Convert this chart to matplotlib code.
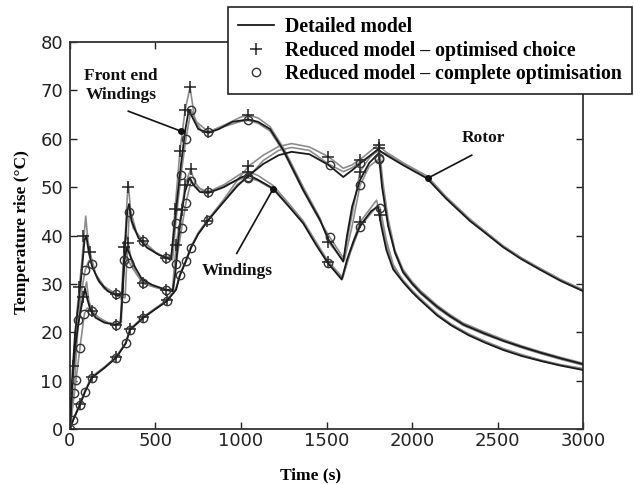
import matplotlib
matplotlib.use("Agg")
import matplotlib.pyplot as plt
from matplotlib.lines import Line2D

# ---- data (time in s, temperature rise in degC) ----

# front end windings
fewTime = [0, 15, 30, 50, 70, 85, 95, 110, 130, 170, 220, 280, 305, 320, 335, 345, 360, 400,
           450, 520, 590, 605, 625, 650, 675, 695, 715, 750, 809, 870, 950, 1043, 1100, 1170,
           1250, 1364, 1462, 1511, 1598, 1620, 1650, 1696, 1750, 1805, 1825, 1860, 1900, 1947,
           2000, 2050, 2146, 2220, 2300, 2420, 2536, 2640, 2750, 2870, 3000]
fewDetailed = [0, 12, 20, 26, 33, 39, 40, 36.5, 33.5, 30.5, 28.5, 27.5, 28, 37, 45, 46.5, 43, 39.5,
               37.5, 36, 35, 40, 47, 55, 62, 66, 64.5, 62, 61.2, 62, 63.5, 64, 63.5, 62,
               57.5, 49.4, 43.2, 39.2, 34.6, 40, 46, 51.5, 55, 57, 50, 42, 36.5, 32.5,
               30.1, 28.2, 25.3, 23.4, 21.6, 19.8, 18.2, 17, 15.8, 14.6, 13.4]
fewOptTime = [0, 20, 40, 55, 70, 92, 105, 117, 150, 200, 269, 305, 318, 330, 340, 355, 390, 429,
              500, 561, 595, 614, 643, 673, 702, 730, 770, 809, 900, 1000, 1043, 1100, 1170, 1250,
              1364, 1462, 1511, 1598, 1650, 1696, 1750, 1809, 1830, 1860, 1900, 1947, 2000, 2050,
              2146, 2220, 2300, 2420, 2536, 2640, 2750, 2870, 3000]
fewOpt = [0, 13, 24, 29.4, 35, 44, 39, 36.6, 32, 29.5, 27.9, 28, 36, 45, 51, 45, 40.5, 38.8,
          36.5, 35.4, 36, 45.4, 57.5, 65.9, 70.6, 64, 61.5, 61.4, 62.8, 64.5, 64.9, 64.3, 62.5, 58,
          50, 43.6, 38.7, 34.8, 44.5, 53.2, 56, 58, 51, 43.5, 37, 33, 30.5, 28.6,
          25.6, 23.7, 21.9, 20.1, 18.5, 17.2, 16, 14.8, 13.6]
fewFullTime = [0, 23, 49, 70, 88, 110, 127, 160, 200, 269, 322, 330, 347, 370, 429, 500, 561, 600,
               618, 649, 678, 708, 740, 809, 900, 1000, 1043, 1100, 1170, 1250, 1364, 1462, 1520,
               1605, 1650, 1696, 1750, 1809, 1830, 1860, 1900, 1947, 2000, 2050, 2146, 2220, 2300,
               2420, 2536, 2640, 2750, 2870, 3000]
fewFull = [0, 7.4, 22.5, 29, 32.8, 34.8, 34.2, 31, 29, 27.9, 27.1, 33, 44.9, 41.5, 38.8, 36.5, 35.4, 35,
           42.5, 52.5, 60, 66, 63.5, 61.4, 62.5, 63.6, 63.8, 63.2, 61.6, 57.2, 49.2, 43, 39.6,
           35, 42, 50.4, 54.3, 55.9, 49.5, 42.5, 36.5, 32.3, 29.9, 28, 25, 23.2, 21.4,
           19.6, 18.1, 16.8, 15.6, 14.4, 13.2]
fewPlusTime = [55, 78, 117, 269, 340, 429, 561, 614, 643, 673, 702, 809, 1043, 1511, 1696, 1809]
fewPlus = [29.4, 40, 36.6, 27.9, 50, 38.8, 35.4, 45.4, 57.5, 65.9, 70.6, 61.4, 64.9, 38.7, 53.2, 58]
fewCircTime = [23, 49, 88, 127, 269, 322, 347, 429, 561, 618, 649, 678, 708, 809, 1043, 1520, 1696, 1809]
fewCirc = [7.4, 22.5, 32.8, 34.2, 27.9, 27.1, 44.9, 38.8, 35.4, 42.5, 52.5, 60, 66, 61.4, 63.8, 39.6, 50.4, 55.9]

# windings
wndTime = [0, 15, 30, 50, 70, 88, 100, 120, 150, 200, 270, 295, 308, 318, 333, 350, 380, 420,
           480, 560, 600, 615, 630, 650, 672, 700, 720, 760, 809, 900, 1000, 1043, 1100, 1189,
           1280, 1364, 1440, 1508, 1589, 1620, 1660, 1696, 1760, 1800, 1820, 1850, 1890, 1947,
           2000, 2040, 2146, 2230, 2330, 2430, 2536, 2640, 2760, 2870, 3000]
wndDetailed = [0, 10, 17, 22, 26, 29, 27, 24.5, 23, 22, 21.5, 22, 28, 35, 37.5, 36, 33.5, 31,
               29.8, 28.8, 28.5, 32, 38, 44, 49, 52, 50.5, 49, 48.8, 50, 52, 52.5, 51.5, 49.7,
               46, 42.5, 38, 34.3, 30.9, 35, 39, 42, 45, 46, 42, 37, 33, 30.4,
               28.3, 26.9, 23.5, 21.4, 19.4, 17.8, 16.3, 15.1, 14, 13.1, 12.2]
wndOptTime = [0, 20, 45, 65, 78, 97, 110, 130, 170, 220, 269, 295, 305, 316, 330, 341, 360, 390,
              429, 500, 561, 600, 620, 653, 672, 706, 730, 770, 809, 900, 1000, 1043, 1100, 1189,
              1280, 1364, 1440, 1511, 1595, 1640, 1696, 1793, 1813, 1850, 1890, 1947, 2000, 2040,
              2146, 2230, 2330, 2430, 2536, 2640, 2760, 2870, 3000]
wndOpt = [0, 13, 21, 25, 27.3, 30.4, 26.5, 24.4, 23, 22, 21.6, 22, 30, 37.7, 40, 38.4, 34.5, 32,
          30.1, 29.3, 28.7, 29, 38, 45.2, 50.4, 53.7, 51, 49.3, 49, 50.5, 52.8, 53.2, 52.4, 50.3,
          46.6, 43, 38.6, 34.6, 31.3, 37, 42.8, 47.3, 44.2, 38, 33.5, 30.8, 28.7, 27.3,
          23.8, 21.7, 19.7, 18.1, 16.6, 15.4, 14.2, 13.3, 12.5]
wndFullTime = [0, 35, 58, 84, 100, 130, 170, 220, 269, 300, 316, 330, 347, 380, 429, 500, 561, 605,
               620, 653, 678, 708, 740, 809, 900, 1000, 1043, 1100, 1189, 1280, 1364, 1440, 1511,
               1592, 1640, 1696, 1800, 1813, 1850, 1890, 1947, 2000, 2040, 2146, 2230, 2330, 2430,
               2536, 2640, 2760, 2870, 3000]
wndFull = [0, 10.1, 16.7, 23.8, 25, 24.4, 22.8, 22, 21.6, 22, 34.9, 35.5, 34.4, 32.5, 30.1, 29.3, 28.7, 28.5,
           34.2, 41.5, 46.8, 51.2, 50, 49, 50.3, 51.7, 51.9, 51.3, 49.5, 46, 42.7, 38.3, 34.3,
           31, 36.5, 41.8, 46.3, 45.7, 39, 34, 30.6, 28.5, 27.1, 23.6, 21.5, 19.6, 18,
           16.5, 15.3, 14.1, 13.2, 12.4]
wndPlusTime = [20, 78, 130, 269, 316, 341, 429, 561, 620, 653, 672, 706, 809, 1043, 1511, 1696, 1813]
wndPlus = [13, 27.3, 24.4, 21.6, 37.7, 38.4, 30.1, 28.7, 38, 45.2, 50.4, 53.7, 49, 53.2, 34.6, 42.8, 44.2]
wndCircTime = [35, 58, 84, 130, 269, 316, 347, 429, 561, 620, 653, 678, 708, 809, 1043, 1511, 1696, 1813]
wndCirc = [10.1, 16.7, 23.8, 24.4, 21.6, 34.9, 34.4, 30.1, 28.7, 34.2, 41.5, 46.8, 51.2, 49, 51.9, 34.3, 41.8, 45.7]

# rotor
rotTime = [0, 20, 58, 88, 127, 200, 269, 326, 351, 429, 500, 565, 620, 643, 678, 708, 750, 809,
           900, 980, 1043, 1130, 1220, 1296, 1400, 1511, 1598, 1650, 1700, 1800, 1850, 1950,
           2088, 2200, 2339, 2440, 2532, 2640, 2750, 2870, 3000]
rotDetailed = [0, 2, 5, 7.7, 10.6, 12.6, 14.7, 17.7, 20.5, 23, 24.8, 26.4, 28.8, 31.8, 34.7, 37.5, 40.3, 43.2,
               47, 50.3, 52.3, 54.8, 56.6, 57.3, 56.8, 54.6, 52.1, 53.5, 55, 57.8, 56.6, 54.5,
               51.8, 47.6, 43, 40.2, 37.6, 35.1, 32.9, 30.6, 28.5]
rotOpt = [0, 2.2, 5.2, 8, 10.8, 12.8, 14.9, 17.9, 20.7, 23.2, 25, 26.6, 29, 32, 35, 37.8, 40.6, 43.4,
          47.5, 51.5, 54.3, 56.6, 58.4, 59, 58.3, 56.3, 53.9, 54.6, 55.8, 58.7, 57.2, 55,
          52.3, 48, 43.4, 40.5, 37.9, 35.4, 33.2, 30.9, 28.8]
rotFull = [0, 1.9, 5, 7.7, 10.6, 12.6, 14.7, 17.7, 20.5, 23, 24.8, 26.4, 28.8, 31.8, 34.7, 37.5, 40.3, 43.2,
           47.2, 50.6, 52.1, 55.5, 57.6, 58.2, 57.6, 54.8, 53.2, 54, 55.2, 57.4, 56.9, 54.8,
           52.1, 47.8, 43.2, 40.4, 37.8, 35.3, 33.1, 30.8, 28.7]
rotPlusTime = [0, 58, 127, 269, 351, 429, 565, 799, 1043, 1511, 1696, 1809]
rotPlus = [0, 5.2, 10.8, 14.9, 20.7, 23.2, 26.6, 43, 54.3, 56.3, 55.6, 58.7]
rotCircTime = [0, 19, 58, 88, 127, 269, 326, 351, 429, 565, 643, 678, 708, 809, 1043, 1520, 1696, 1809]
rotCirc = [0, 1.9, 5, 7.7, 10.6, 14.7, 17.7, 20.5, 23, 26.4, 31.8, 34.7, 37.5, 43.2, 52.1, 54.5, 54.9, 56]

# labels: text, text position, pointer start, pointer end (dot)
labels = ["Front end\nWindings", "Windings", "Rotor"]
labelPos = [(298, 71.0), (980, 32.6), (2415, 60.1)]
pointerFrom = [(341, 65.7), (975, 36.3), (2349, 56.6)]
pointerTo = [(647, 61.6), (1189, 49.7), (2095, 51.9)]

GRAY = "#8c8c8c"
DARK = "#1a1a1a"
serif = {"family": "Liberation Serif", "weight": "bold"}


def plotComponent(ax, t, det, tOpt, opt, tFull, full, tPlus, yPlus, tCirc, yCirc):
    """Draws one component: two reduced-model lines in gray, the detailed one in black, then the markers."""
    ax.plot(tOpt, opt, color=GRAY, lw=1.2, zorder=2)
    ax.plot(tFull, full, color=GRAY, lw=1.2, zorder=2)
    ax.plot(t, det, color=DARK, lw=1.3, zorder=3)
    ax.plot(tPlus, yPlus, ls="none", marker="+", ms=8, mew=1.1, color="#222222", zorder=4)
    ax.plot(tCirc, yCirc, ls="none", marker="o", ms=6, mew=1.0, mfc="none", mec="#333333", zorder=4)


fig = plt.figure(figsize=(6.34, 4.84), dpi=100)
ax = fig.add_axes([0.1104, 0.1136, 0.8092, 0.7996])

plotComponent(ax, fewTime, fewDetailed, fewOptTime, fewOpt, fewFullTime, fewFull,
              fewPlusTime, fewPlus, fewCircTime, fewCirc)
plotComponent(ax, wndTime, wndDetailed, wndOptTime, wndOpt, wndFullTime, wndFull,
              wndPlusTime, wndPlus, wndCircTime, wndCirc)
plotComponent(ax, rotTime, rotDetailed, rotTime, rotOpt, rotTime, rotFull,
              rotPlusTime, rotPlus, rotCircTime, rotCirc)

# pointers with a dot at the curve end
for text, pos, p0, p1 in zip(labels, labelPos, pointerFrom, pointerTo):
    ax.text(pos[0], pos[1], text, ha="center", va="center", fontsize=12.5,
            linespacing=1.25, color="#111111", **serif)
    ax.plot([p0[0], p1[0]], [p0[1], p1[1]], color="#111111", lw=1.2, zorder=5)
    ax.plot(p1[0], p1[1], "o", ms=4, color="#111111", zorder=5)

ax.set_xlim(0, 3000)
ax.set_ylim(0, 80)
ax.set_xticks(range(0, 3001, 500))
ax.set_yticks(range(0, 81, 10))
ax.tick_params(direction="in", top=True, right=True, length=5, width=1, labelsize=13,
               colors="#222222")
ax.tick_params(axis="x", pad=2.5)
ax.tick_params(axis="y", pad=5)
for lab in ax.get_xticklabels() + ax.get_yticklabels():
    lab.set_family("DejaVu Sans")
for s in ax.spines.values():
    s.set_linewidth(1.3)
    s.set_color("#333333")

ax.set_xlabel("Time (s)", fontsize=12.5, **serif)
ax.set_ylabel("Temperature rise (°C)", fontsize=12.5, **serif)
ax.xaxis.set_label_coords(0.469, -0.098)
ax.yaxis.set_label_coords(-0.078, 0.51)

handles = [
    Line2D([], [], color=DARK, lw=1.3),
    Line2D([], [], ls="none", marker="+", ms=8, mew=1.1, color="#222222"),
    Line2D([], [], ls="none", marker="o", ms=6, mew=1.0, mfc="none", mec="#333333"),
]
names = ["Detailed model", "Reduced model \u2013 optimised choice", "Reduced model \u2013 complete optimisation"]
leg = fig.legend(handles, names, loc="upper right", bbox_to_anchor=(0.997, 0.985),
                 bbox_transform=fig.transFigure, borderaxespad=0,
                 prop={"family": "Liberation Serif", "weight": "bold", "size": 14.2},
                 frameon=True, fancybox=False, framealpha=1, edgecolor="#222222",
                 handlelength=1.8, handletextpad=0.6, labelspacing=0.18, borderpad=0.5)
leg.get_frame().set_linewidth(1.2)
leg.set_zorder(10)

fig.savefig("out.png", dpi=100)
